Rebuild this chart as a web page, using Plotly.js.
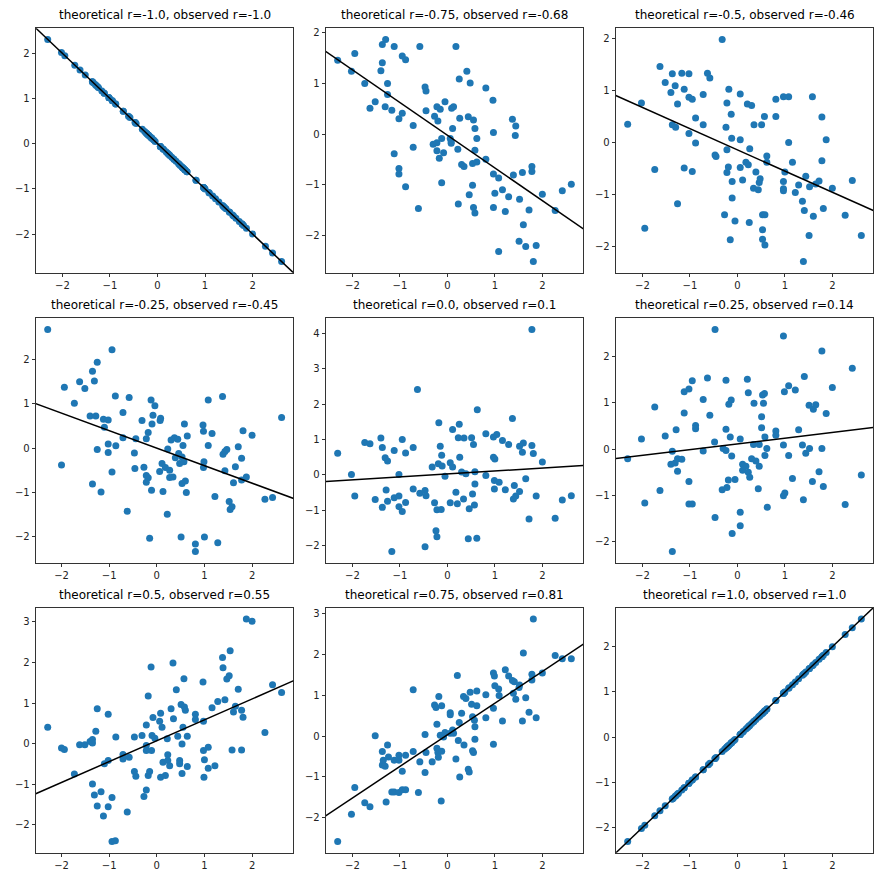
<!DOCTYPE html>
<html><head><meta charset="utf-8">
<script src="https://cdn.plot.ly/plotly-3.0.1.min.js"></script>
<style>html,body{margin:0;padding:0;background:#fff}#chart{width:883px;height:886px}</style>
</head><body><div id="chart"></div>
<script>
const titles = [
  "theoretical r=-1.0, observed r=-1.0",
  "theoretical r=-0.75, observed r=-0.68",
  "theoretical r=-0.5, observed r=-0.46",
  "theoretical r=-0.25, observed r=-0.45",
  "theoretical r=0.0, observed r=0.1",
  "theoretical r=0.25, observed r=0.14",
  "theoretical r=0.5, observed r=0.55",
  "theoretical r=0.75, observed r=0.81",
  "theoretical r=1.0, observed r=1.0"
];

const diagX = [-2.31,-2.02,-1.95,-1.74,-1.63,-1.52,-1.37,-1.37,-1.35,-1.31,-1.29,-1.26,-1.24,-1.17,-1.12,-1.12,-1.02,-1.02,-1.02,-0.95,-0.95,-0.88,-0.88,-0.72,-0.72,-0.61,-0.58,-0.47,-0.47,-0.45,-0.32,-0.27,-0.24,-0.22,-0.22,-0.20,-0.19,-0.18,-0.15,-0.13,-0.12,-0.12,-0.08,-0.05,0.06,0.06,0.06,0.11,0.13,0.18,0.21,0.23,0.25,0.26,0.30,0.34,0.35,0.39,0.44,0.46,0.48,0.51,0.53,0.53,0.55,0.57,0.58,0.58,0.62,0.62,0.81,0.81,0.97,0.97,0.97,0.99,1.00,1.08,1.09,1.16,1.22,1.29,1.37,1.39,1.41,1.44,1.51,1.52,1.58,1.60,1.65,1.72,1.78,1.78,1.81,1.87,2.00,2.27,2.42,2.61];

const p1y = [2.31,2.02,1.95,1.74,1.63,1.52,1.37,1.37,1.35,1.31,1.29,1.26,1.24,1.17,1.12,1.12,1.02,1.02,1.02,0.95,0.95,0.88,0.88,0.72,0.72,0.61,0.58,0.47,0.47,0.45,0.32,0.27,0.24,0.22,0.22,0.20,0.19,0.18,0.15,0.13,0.12,0.12,0.08,0.05,-0.06,-0.06,-0.06,-0.11,-0.13,-0.18,-0.21,-0.23,-0.25,-0.26,-0.30,-0.34,-0.35,-0.39,-0.44,-0.46,-0.48,-0.51,-0.53,-0.53,-0.55,-0.57,-0.58,-0.58,-0.62,-0.62,-0.81,-0.81,-0.97,-0.97,-0.97,-0.99,-1.00,-1.08,-1.09,-1.16,-1.22,-1.29,-1.37,-1.39,-1.41,-1.44,-1.51,-1.52,-1.58,-1.60,-1.65,-1.72,-1.78,-1.78,-1.81,-1.87,-2.00,-2.27,-2.42,-2.61];

const p9y = [-2.31,-2.02,-1.95,-1.74,-1.63,-1.52,-1.37,-1.37,-1.35,-1.31,-1.29,-1.26,-1.24,-1.17,-1.12,-1.12,-1.02,-1.02,-1.02,-0.95,-0.95,-0.88,-0.88,-0.72,-0.72,-0.61,-0.58,-0.47,-0.47,-0.45,-0.32,-0.27,-0.24,-0.22,-0.22,-0.20,-0.19,-0.18,-0.15,-0.13,-0.12,-0.12,-0.08,-0.05,0.06,0.06,0.06,0.11,0.13,0.18,0.21,0.23,0.25,0.26,0.30,0.34,0.35,0.39,0.44,0.46,0.48,0.51,0.53,0.53,0.55,0.57,0.58,0.58,0.62,0.62,0.81,0.81,0.97,0.97,0.97,0.99,1.00,1.08,1.09,1.16,1.22,1.29,1.37,1.39,1.41,1.44,1.51,1.52,1.58,1.60,1.65,1.72,1.78,1.78,1.81,1.87,2.00,2.27,2.42,2.61];

const p2x = [-2.31,-1.95,-2.02,-1.74,-1.63,-1.52,-1.40,-1.37,-1.37,-1.30,-1.31,-1.26,-1.26,-1.17,-1.12,-1.12,-1.02,-0.95,-0.95,-0.88,-1.02,-1.02,-0.88,-0.72,-0.72,-0.61,-0.58,-0.47,-0.45,-0.45,-0.27,-0.22,-0.15,-0.20,-0.30,-0.22,-0.22,-0.17,-0.12,-0.12,-0.08,-0.05,0.06,0.08,0.08,0.09,0.13,0.11,0.18,0.22,0.23,0.25,0.26,0.30,0.35,0.41,0.44,0.48,0.46,0.53,0.53,0.55,0.55,0.58,0.58,0.58,0.62,0.62,0.81,0.81,0.96,0.97,0.97,0.97,1.00,1.08,1.08,1.16,1.22,1.29,1.37,1.39,1.44,1.43,1.52,1.51,1.58,1.60,1.65,1.72,1.78,1.78,1.81,1.87,2.00,2.27,2.42,2.61];
const p2y = [1.46,1.59,1.24,1.00,0.51,0.64,1.25,1.41,1.77,1.87,0.54,1.00,0.78,0.47,1.73,-0.39,0.30,0.41,1.54,1.47,-0.68,-0.79,-1.04,0.17,-0.26,-1.47,1.73,0.93,0.85,0.46,0.35,0.54,0.49,0.26,-0.20,-0.17,-0.33,-0.48,-0.96,-0.09,-0.37,0.64,-0.09,-0.15,-0.18,0.51,0.54,0.11,1.73,-0.30,-1.38,1.09,0.31,-0.60,-0.64,1.24,0.34,1.01,-1.20,-1.01,-0.58,0.28,-1.45,0.11,-0.32,-1.56,-0.09,-0.55,0.91,-0.50,0.67,0.03,-0.79,-1.45,-1.17,-0.87,-2.32,-1.10,-1.53,-1.24,0.29,-0.81,0.16,-0.03,-1.29,-2.12,-0.76,-1.79,-2.22,-1.50,-0.64,-0.74,-2.52,-2.20,-1.19,-1.51,-1.12,-0.99];

const p3x = [-2.31,-2.02,-1.95,-1.74,-1.63,-1.52,-1.40,-1.37,-1.37,-1.31,-1.30,-1.26,-1.26,-1.17,-1.12,-1.12,-1.02,-1.02,-1.02,-0.95,-0.95,-0.88,-0.88,-0.72,-0.72,-0.63,-0.58,-0.47,-0.45,-0.32,-0.27,-0.22,-0.24,-0.22,-0.22,-0.19,-0.18,-0.15,-0.13,-0.12,-0.11,-0.11,-0.05,0.06,0.06,0.06,0.11,0.18,0.21,0.23,0.25,0.26,0.30,0.34,0.35,0.39,0.44,0.46,0.48,0.51,0.53,0.53,0.53,0.57,0.58,0.58,0.62,0.62,0.81,0.81,0.97,0.97,0.97,0.97,1.00,1.08,1.08,1.16,1.22,1.29,1.37,1.41,1.44,1.51,1.52,1.58,1.60,1.65,1.72,1.78,1.78,1.81,1.87,2.00,2.27,2.42,2.61,1.39];
const p3y = [0.35,0.76,-1.65,-0.52,1.46,1.15,0.96,1.32,0.34,1.09,0.29,0.74,-1.18,1.33,1.02,-0.49,1.32,0.87,0.17,0.83,-0.56,0.47,-0.01,0.92,0.34,1.33,1.24,-0.24,-0.27,1.98,-1.39,0.76,0.29,-0.14,-0.58,-0.47,1.02,-1.87,0.54,0.08,-0.75,-1.07,-1.51,0.93,0.05,-0.48,-0.72,-0.38,0.74,-0.43,-1.54,-0.12,0.71,-0.88,0.34,-0.57,-0.91,-0.77,-0.70,0.34,-1.39,-1.68,-1.86,0.50,-1.39,-1.97,-0.26,-0.38,0.83,0.50,0.88,-0.75,-0.89,-0.93,-0.57,0.88,0.00,-0.38,-0.96,-0.82,-1.13,-1.31,-0.65,-1.79,-0.85,0.88,-1.42,-0.80,-0.74,0.49,-0.35,-1.27,0.05,-0.88,-1.40,-0.73,-1.79,-2.29];

const p4x = [-2.29,-2.00,-1.94,-1.73,-1.62,-1.51,-1.40,-1.35,-1.35,-1.31,-1.28,-1.25,-1.25,-1.17,-1.12,-1.10,-1.02,-1.02,-1.02,-0.94,-0.94,-0.87,-0.86,-0.71,-0.71,-0.62,-0.58,-0.47,-0.46,-0.44,-0.31,-0.27,-0.22,-0.22,-0.22,-0.18,-0.18,-0.15,-0.12,-0.11,-0.10,-0.08,-0.04,0.06,0.07,0.08,0.11,0.13,0.18,0.22,0.23,0.27,0.27,0.30,0.34,0.37,0.39,0.44,0.46,0.48,0.51,0.53,0.53,0.55,0.57,0.58,0.60,0.62,0.64,0.81,0.81,0.97,0.98,0.99,0.98,1.00,1.08,1.08,1.16,1.22,1.28,1.38,1.39,1.43,1.43,1.47,1.52,1.54,1.58,1.61,1.65,1.71,1.78,1.78,1.81,1.88,2.00,2.27,2.43,2.62];
const p4y = [2.67,-0.38,1.37,1.01,1.49,1.34,0.72,1.73,-0.81,1.51,0.72,1.93,-0.03,-0.99,0.65,0.47,0.63,0.09,-0.10,2.21,-0.54,1.17,0.05,0.80,0.23,-1.42,1.14,-0.11,-0.46,0.21,0.62,-0.43,-0.62,-0.77,0.21,0.35,-0.67,-2.03,1.08,-0.95,0.54,0.74,0.95,-0.53,0.62,0.67,-0.35,-0.98,-0.44,-1.49,-0.02,-0.50,-0.66,0.18,-0.65,0.23,-0.22,0.20,-0.12,-0.35,-2.00,-0.20,-0.80,0.06,-0.31,0.54,-0.74,-1.00,0.27,-2.16,-2.33,0.52,0.38,-0.31,-0.44,-2.00,1.08,0.06,0.33,-1.09,-2.13,1.16,-0.14,-0.51,-0.08,-0.03,-1.20,-1.38,-1.32,-0.78,-0.42,0.03,-0.23,-0.72,0.39,-0.65,0.29,-1.15,-1.11,0.69];

const p5x = [-2.31,-2.02,-1.95,-1.74,-1.63,-1.52,-1.40,-1.37,-1.37,-1.31,-1.26,-1.29,-1.26,-1.17,-1.12,-1.12,-1.02,-1.02,-1.02,-0.95,-0.95,-0.88,-0.88,-0.72,-0.72,-0.63,-0.58,-0.47,-0.45,-0.47,-0.32,-0.27,-0.24,-0.22,-0.22,-0.19,-0.18,-0.15,-0.13,-0.12,-0.11,-0.05,0.06,0.06,0.11,0.11,0.18,0.21,0.23,0.25,0.26,0.30,0.34,0.35,0.39,0.44,0.46,0.51,0.53,0.55,0.57,0.58,0.58,0.62,0.63,0.81,0.81,0.97,0.97,0.99,0.99,1.00,1.04,1.09,1.16,1.22,1.29,1.37,1.39,1.41,1.44,1.52,1.52,1.58,1.60,1.65,1.72,1.78,1.78,1.81,1.87,2.00,2.27,2.42,2.61];
const p5y = [0.61,0.01,-0.60,0.91,0.88,-0.70,1.04,0.77,-0.92,0.48,0.39,-0.43,-0.75,-2.17,0.69,-0.65,0.01,-0.60,-0.90,1.00,-1.04,0.62,-0.78,0.77,-0.40,2.41,-0.52,-0.44,-0.59,-2.03,0.22,-0.79,-1.58,-1.75,-0.99,0.31,1.47,0.81,-0.98,0.55,0.25,-0.04,0.34,-0.79,1.28,0.22,-0.49,-0.82,1.05,1.43,0.50,0.08,-0.68,1.04,0.03,-1.81,-0.96,1.05,-0.54,0.86,-0.85,0.09,-0.26,-1.79,1.84,1.16,-0.02,1.07,0.50,-0.40,-0.16,0.45,1.14,-0.21,0.97,-0.42,0.86,1.59,-0.68,-0.30,-0.60,-0.47,0.81,0.64,0.90,-0.11,-1.25,4.11,0.83,0.60,-0.60,0.36,-1.23,-0.71,-0.59];

const p6x = [-2.31,-2.02,-1.95,-1.74,-1.63,-1.52,-1.37,-1.37,-1.40,-1.31,-1.29,-1.26,-1.26,-1.17,-1.12,-1.12,-1.02,-1.02,-1.02,-0.95,-0.95,-0.88,-0.88,-0.72,-0.72,-0.63,-0.58,-0.47,-0.47,-0.48,-0.32,-0.30,-0.24,-0.24,-0.24,-0.22,-0.19,-0.18,-0.15,-0.13,-0.12,-0.11,-0.05,0.06,0.06,0.06,0.11,0.11,0.18,0.21,0.23,0.23,0.26,0.30,0.34,0.35,0.39,0.44,0.46,0.46,0.51,0.51,0.53,0.55,0.57,0.58,0.58,0.62,0.63,0.81,0.81,0.97,0.97,0.97,0.99,1.00,1.08,1.08,1.16,1.22,1.29,1.37,1.39,1.41,1.44,1.51,1.52,1.58,1.60,1.65,1.72,1.78,1.78,1.81,1.87,2.00,2.27,2.42,2.61];
const p6y = [-0.21,0.22,-1.17,0.91,-0.90,0.28,-2.22,-0.05,-0.33,-0.30,0.42,-0.21,-0.48,-0.22,0.78,1.24,1.30,-0.70,-1.19,1.48,-1.19,0.51,0.44,1.07,-0.04,1.54,0.73,2.59,-1.48,0.15,-0.88,0.01,-0.03,0.43,1.49,-0.83,-0.67,0.97,0.26,1.06,-0.15,-1.83,-0.66,0.22,-1.37,-1.66,-0.33,-0.46,-0.37,1.51,1.22,-0.50,-0.61,-0.21,0.10,0.99,-0.26,-0.86,0.10,-0.37,0.70,0.46,1.17,0.99,1.20,0.26,-0.14,0.01,-1.26,0.39,0.30,2.45,0.09,-1.01,1.24,-0.95,1.37,-0.14,-0.64,1.28,0.42,0.09,-1.10,1.57,-0.09,0.95,0.01,-0.70,0.86,0.96,-0.49,2.12,0.01,-0.81,0.77,1.33,-1.20,1.75,-0.56];

const p7x = [-2.29,-2.00,-1.94,-1.73,-1.62,-1.51,-1.40,-1.35,-1.35,-1.35,-1.31,-1.28,-1.25,-1.25,-1.17,-1.12,-1.10,-1.02,-1.02,-1.02,-0.94,-0.94,-0.87,-0.86,-0.71,-0.71,-0.62,-0.58,-0.47,-0.47,-0.44,-0.31,-0.27,-0.22,-0.22,-0.22,-0.22,-0.18,-0.18,-0.15,-0.12,-0.11,-0.10,-0.08,-0.04,0.06,0.08,0.08,0.11,0.13,0.18,0.22,0.23,0.23,0.27,0.30,0.34,0.35,0.41,0.44,0.48,0.48,0.51,0.53,0.53,0.55,0.57,0.58,0.60,0.64,0.64,0.81,0.81,0.97,0.98,0.98,0.99,1.00,1.08,1.08,1.16,1.22,1.28,1.38,1.39,1.43,1.47,1.52,1.54,1.58,1.61,1.65,1.71,1.78,1.78,1.81,1.88,2.00,2.27,2.43,2.62];
const p7y = [0.40,-0.11,-0.15,-0.75,-0.03,-0.03,0.05,0.10,-1.00,0.01,-1.27,0.30,0.86,-1.54,-1.19,-1.79,-0.50,0.72,-0.42,-1.56,-1.33,-2.42,-2.40,0.16,-0.27,-0.38,-1.69,-0.34,0.16,-0.69,-0.81,0.20,-1.31,-1.15,0.46,-0.05,-0.17,1.17,-0.79,-0.69,1.89,-0.17,0.20,0.64,0.13,0.55,0.75,-0.83,0.40,-0.46,-0.79,0.12,-0.28,-0.42,-0.55,0.86,1.99,0.61,1.33,0.18,-0.42,-0.50,0.96,-0.01,-0.74,0.40,1.60,0.90,0.82,0.18,-0.57,0.72,0.59,1.52,0.55,-0.17,-0.83,-0.40,-0.09,-0.61,0.88,-0.55,1.04,2.12,1.87,1.08,1.59,1.67,2.29,-0.16,0.78,0.92,1.34,-0.16,0.82,0.65,3.07,3.02,0.27,1.45,1.26];

const p8x = [-2.31,-2.02,-1.95,-1.74,-1.63,-1.52,-1.37,-1.37,-1.35,-1.31,-1.29,-1.26,-1.24,-1.17,-1.12,-1.12,-1.02,-1.02,-1.02,-0.95,-0.95,-0.88,-0.88,-0.72,-0.72,-0.61,-0.58,-0.47,-0.47,-0.45,-0.32,-0.27,-0.24,-0.22,-0.22,-0.20,-0.19,-0.18,-0.15,-0.13,-0.12,-0.12,-0.08,-0.05,0.06,0.06,0.06,0.11,0.13,0.18,0.21,0.23,0.25,0.26,0.30,0.34,0.35,0.39,0.44,0.46,0.48,0.51,0.53,0.53,0.55,0.57,0.58,0.58,0.62,0.62,0.81,0.81,0.97,0.97,0.97,0.99,1.00,1.08,1.09,1.16,1.22,1.29,1.37,1.39,1.41,1.44,1.51,1.52,1.58,1.60,1.65,1.72,1.78,1.78,1.81,1.87,2.00,2.27,2.42,2.61];
const p8y = [-2.58,-1.91,-1.26,-1.63,-1.73,0.01,-0.71,-0.38,-0.59,-0.74,-1.61,-0.22,-0.51,-1.37,-0.59,-1.37,-1.38,-0.47,-0.59,-0.86,-1.31,-1.31,-0.47,1.13,-0.38,-1.38,-0.63,0.04,-0.89,-0.40,-0.63,0.76,0.70,0.29,-0.30,-0.40,-0.52,0.97,0.02,-1.59,0.74,-0.37,-0.02,0.09,0.57,0.52,0.07,0.15,0.07,-0.56,1.48,-0.11,0.33,-1.00,0.56,0.97,-0.22,0.92,-0.81,-0.88,1.07,0.78,0.47,-0.36,-0.40,0.39,0.23,-0.08,1.10,0.74,1.01,0.45,1.54,0.68,-0.20,1.47,1.23,1.15,0.99,0.37,1.62,1.47,1.36,1.05,1.33,0.90,1.19,1.25,0.37,2.03,0.94,0.58,1.51,1.37,2.86,0.45,1.54,1.97,1.89,1.89];

const panelData = [
  [diagX, p1y], [p2x, p2y], [p3x, p3y],
  [p4x, p4y], [p5x, p5y], [p6x, p6y],
  [p7x, p7y], [p8x, p8y], [diagX, p9y]
];

const W = 883, H = 886;
const colPx = [[36, 293.3], [326, 583], [616, 873]];
const rowPx = [[28.3, 272.7], [318.3, 562.7], [608, 852.7]];

function fitLine(x, y) {
  const n = x.length;
  let mx = 0, my = 0;
  for (let i = 0; i < n; i++) { mx += x[i]; my += y[i]; }
  mx /= n; my /= n;
  let sxy = 0, sxx = 0;
  for (let i = 0; i < n; i++) { sxy += (x[i]-mx)*(y[i]-my); sxx += (x[i]-mx)*(x[i]-mx); }
  const b = sxy / sxx;
  return [b, my - b*mx];
}
function padRange(a) {
  const mn = Math.min(...a), mx = Math.max(...a), s = mx - mn;
  return [mn - 0.05*s, mx + 0.05*s];
}

const traces = [];
const layout = {
  width: W, height: H,
  margin: {l: 0, r: 0, t: 0, b: 0},
  showlegend: false,
  paper_bgcolor: '#fff', plot_bgcolor: '#fff',
  font: {family: 'DejaVu Sans', size: 10, color: '#000'},
  annotations: []
};

panelData.forEach((d, i) => {
  const sfx = i === 0 ? '' : String(i + 1);
  const [x, y] = d;
  const xr = padRange(x), yr = padRange(y);
  const [b, a] = fitLine(x, y);
  traces.push({
    type: 'scatter', mode: 'markers', x: x, y: y,
    xaxis: 'x' + sfx, yaxis: 'y' + sfx,
    marker: {color: '#1f77b4', size: 7, line: {width: 0}},
    hoverinfo: 'skip'
  });
  const lx = [xr[0] - 1, xr[1] + 1];
  traces.push({
    type: 'scatter', mode: 'lines', x: lx, y: lx.map(v => a + b*v),
    xaxis: 'x' + sfx, yaxis: 'y' + sfx,
    line: {color: '#000', width: 1.5}, hoverinfo: 'skip'
  });
  const c = i % 3, r = Math.floor(i / 3);
  const axBase = {
    showline: true, mirror: true, linecolor: '#000', linewidth: 0.8,
    ticks: 'outside', ticklen: 3.5, tickwidth: 0.8, tickcolor: '#000',
    showgrid: false, zeroline: false, dtick: 1, tick0: 0,
    tickfont: {family: 'DejaVu Sans', size: 10, color: '#222'}
  };
  layout['xaxis' + sfx] = Object.assign({}, axBase, {
    domain: [colPx[c][0] / W, colPx[c][1] / W],
    range: xr, anchor: 'y' + sfx
  });
  layout['yaxis' + sfx] = Object.assign({}, axBase, {
    domain: [1 - rowPx[r][1] / H, 1 - rowPx[r][0] / H],
    range: yr, anchor: 'x' + sfx
  });
  layout.annotations.push({
    text: titles[i], showarrow: false,
    xref: 'x' + sfx + ' domain', yref: 'y' + sfx + ' domain',
    x: 0.5, y: 1, xanchor: 'center', yanchor: 'bottom', yshift: 4,
    font: {family: 'DejaVu Sans', size: 12, color: '#000'}
  });
});

Plotly.newPlot('chart', traces, layout, {staticPlot: true});
</script>
</body></html>
